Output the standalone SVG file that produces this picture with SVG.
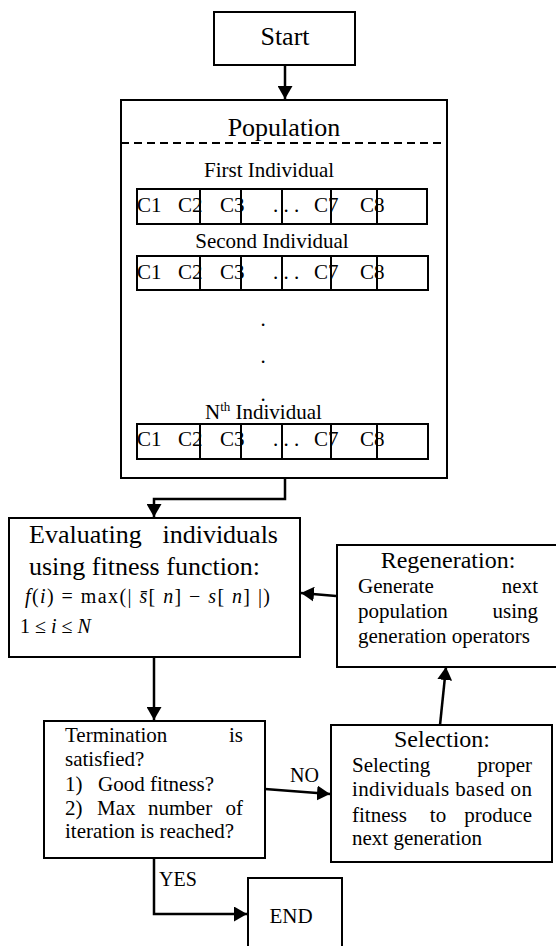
<svg xmlns="http://www.w3.org/2000/svg" width="556" height="946" viewBox="0 0 556 946">
<style>
text{font-family:"Liberation Serif","Times New Roman",serif;fill:#000}
.box{fill:#fff;stroke:#000;stroke-width:2}
.cell{fill:none;stroke:#000;stroke-width:2}
.conn{fill:none;stroke:#000;stroke-width:2.5;marker-end:url(#ah)}
.t26{font-size:26px}
.t24{font-size:24px}
.t21{font-size:21px}
.t20{font-size:20px}
.mid{text-anchor:middle}
.end{text-anchor:end}
.it{font-style:italic}
</style>
<defs>
<marker id="ah" viewBox="0 0 13 15" refX="13" refY="7.5" markerWidth="13" markerHeight="15" markerUnits="userSpaceOnUse" orient="auto">
<path d="M0,0 L13,7.5 L0,15 z" fill="#000"/>
</marker>
</defs>
<rect width="556" height="946" fill="#fff"/>

<g id="start">
<rect class="box" x="214" y="12" width="141" height="53"/>
<text class="t26 mid" x="285" y="45">Start</text>
</g>

<g id="population">
<rect class="box" x="121" y="100" width="326" height="378"/>
<text class="t26 mid" x="284" y="136">Population</text>
<line x1="121" y1="143" x2="447" y2="143" stroke="#000" stroke-width="2" stroke-dasharray="8,5"/>
<text class="t21 mid" x="269" y="177">First Individual</text>
<g id="row1">
<text class="t21" x="137" y="212">C1</text><text class="t21" x="178" y="212">C2</text><text class="t21" x="220" y="212">C3</text><text class="t21" x="273" y="212">. . .</text><text class="t21" x="314" y="212">C7</text><text class="t21" x="360" y="212">C8</text>
<rect class="cell" x="137" y="189" width="290" height="35"/>
<path class="cell" d="M200,189V224M241,189V224M282,189V224M331,189V224M377,189V224"/>
</g>
<text class="t21 mid" x="272" y="248">Second Individual</text>
<g id="row2">
<text class="t21" x="137" y="279">C1</text><text class="t21" x="178" y="279">C2</text><text class="t21" x="220" y="279">C3</text><text class="t21" x="273" y="279">. . .</text><text class="t21" x="314" y="279">C7</text><text class="t21" x="360" y="279">C8</text>
<rect class="cell" x="137" y="256" width="291" height="34"/>
<path class="cell" d="M200,256V290M241,256V290M282,256V290M331,256V290M377,256V290"/>
</g>
<text class="t21 mid" x="263" y="326">.</text>
<text class="t21 mid" x="263" y="363">.</text>
<text class="t21 mid" x="263" y="401">.</text>
<text class="t21" x="205" y="419">N<tspan font-size="13" dy="-8">th</tspan><tspan dy="8"> Individual</tspan></text>
<g id="rowN">
<text class="t21" x="137" y="446">C1</text><text class="t21" x="178" y="446">C2</text><text class="t21" x="220" y="446">C3</text><text class="t21" x="273" y="446">. . .</text><text class="t21" x="314" y="446">C7</text><text class="t21" x="360" y="446">C8</text>
<rect class="cell" x="137" y="424" width="291" height="35"/>
<path class="cell" d="M200,424V459M241,424V459M282,424V459M331,424V459M377,424V459"/>
</g>
</g>

<g id="evaluating">
<rect class="box" x="9" y="518" width="291" height="139"/>
<text class="t26" x="29" y="543">Evaluating</text>
<text class="t26 end" x="278" y="543">individuals</text>
<text class="t26" x="29" y="575">using fitness function:</text>
<text class="t20" x="25" y="603" textLength="245" lengthAdjust="spacing"><tspan class="it">f</tspan>(<tspan class="it">i</tspan>) = max(| <tspan class="it">s̄</tspan>[ <tspan class="it">n</tspan>] − <tspan class="it">s</tspan>[ <tspan class="it">n</tspan>] |)</text>
<text class="t20" x="20" y="633">1 ≤ <tspan class="it">i</tspan> ≤ <tspan class="it">N</tspan></text>
</g>

<g id="regeneration">
<rect class="box" x="337" y="545" width="222" height="122"/>
<text class="t24 mid" x="448" y="568">Regeneration:</text>
<text class="t21" x="358" y="593">Generate</text>
<text class="t21 end" x="538" y="593">next</text>
<text class="t21" x="358" y="618">population</text>
<text class="t21 end" x="538" y="618">using</text>
<text class="t21" x="358" y="643">generation operators</text>
</g>

<g id="termination">
<rect class="box" x="44" y="721" width="221" height="137"/>
<text class="t21" x="65" y="742">Termination</text>
<text class="t21 end" x="243" y="742">is</text>
<text class="t21" x="65" y="766">satisfied?</text>
<text class="t21" x="65" y="791">1)</text>
<text class="t21" x="98" y="791">Good fitness?</text>
<text class="t21" x="65" y="815">2)</text>
<text class="t21" x="97" y="815">Max</text>
<text class="t21" x="148" y="815">number</text>
<text class="t21 end" x="243" y="815">of</text>
<text class="t21" x="65" y="838">iteration is reached?</text>
</g>

<g id="selection">
<rect class="box" x="331" y="725" width="221" height="137"/>
<text class="t24 mid" x="442" y="747">Selection:</text>
<text class="t21" x="352" y="772">Selecting</text>
<text class="t21 end" x="532" y="772">proper</text>
<text class="t21" x="352" y="796" textLength="180" lengthAdjust="spacing">individuals based on</text>
<text class="t21" x="352" y="822">fitness</text>
<text class="t21 mid" x="438" y="822">to</text>
<text class="t21 end" x="532" y="822">produce</text>
<text class="t21" x="352" y="845">next generation</text>
</g>

<g id="end">
<rect class="box" x="248" y="878" width="94" height="80"/>
<text class="t21 mid" x="291" y="923">END</text>
</g>

<g id="connectors">
<path class="conn" d="M285,65 L285,99"/>
<path class="conn" d="M285,478 L285,499 L154,499 L154,517"/>
<path class="conn" d="M154,657 L154,720"/>
<path class="conn" d="M265,789 L330,794"/>
<path class="conn" d="M440,725 L446,667"/>
<path class="conn" d="M336,596 L301,593"/>
<path class="conn" d="M154,858 L154,914 L247,914"/>
<text class="t20" x="290" y="782">NO</text>
<text class="t20" x="159" y="886">YES</text>
</g>
</svg>
